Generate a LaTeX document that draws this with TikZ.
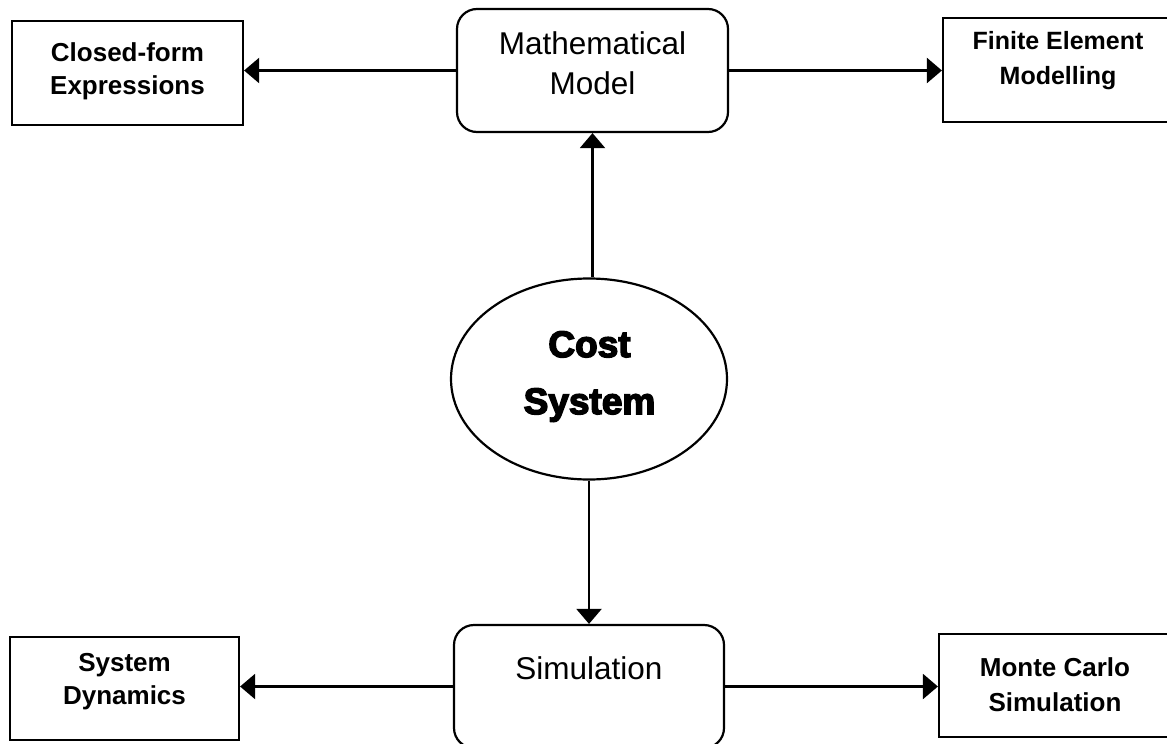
\documentclass[tikz,border=0pt]{standalone}
\usepackage{fontspec}
\setmainfont{Liberation Sans}
\newfontfamily\heavyfont{Liberation Sans}[BoldFeatures={FakeBold=4}]
\usetikzlibrary{arrows.meta,shapes.geometric}
\begin{document}
\begin{tikzpicture}[x=1pt,y=-1pt,
  box/.style={draw, line width=2.2pt, inner sep=0pt, minimum width=#1, minimum height=103pt},
  rbox/.style={draw, line width=2.2pt, inner sep=0pt, rounded corners=20pt, minimum width=271pt, minimum height=123pt},
  lbl/.style={inner sep=0pt, align=center, font=\bfseries\fontsize{26}{33}\selectfont},
  rlbl/.style={inner sep=0pt, align=center, font=\fontsize{31.5}{40}\selectfont},
  arr/.style={line width=2.2pt, -{Triangle[length=15pt,width=25pt]}}]
\useasboundingbox (0,0) rectangle (1167,744);
\clip (0,0) rectangle (1167,744);
% boxes
\node[box=231pt, minimum height=104pt] (cf) at (127.5,73) {};
\node[rbox] (mm) at (592.5,70.5) {};
\node[box=230pt, minimum height=104pt] (fe) at (1058,70) {};
\node[draw, ellipse, line width=2.2pt, inner sep=0pt, minimum width=276pt, minimum height=201pt] (cs) at (589,379) {};
\node[box=229pt] (sd) at (124.5,688.5) {};
\node[rbox, minimum width=270pt] (sim) at (589,686.5) {};
\node[box=232pt] (mc) at (1055,685.5) {};
% texts
\node[lbl] (cft) at (127.5,71.5) {Closed-form\\Expressions};
\node[rlbl] (mmt) at (592.5,63) {Mathematical\\Model};
\node[lbl, font=\bfseries\fontsize{25}{35}\selectfont] (fet) at (1058,60.5) {Finite Element\\Modelling};
\node[inner sep=0pt, align=center, font=\heavyfont\bfseries\fontsize{37}{57}\selectfont] (cst) at (589.5,376.5) {Cost\\System};
\node[lbl] (sdt) at (124.5,681.5) {System\\Dynamics};
\node[rlbl] (simt) at (589,668) {Simulation};
\node[lbl, font=\bfseries\fontsize{26}{35}\selectfont] (mct) at (1055,684.5) {Monte Carlo\\Simulation};
% connectors
\draw[arr] (mm.west) -- (mm.west -| cf.east);
\draw[arr] (mm.east) -- (mm.east -| fe.west);
\draw[arr] (cs.north -| mm.south) -- (mm.south);
\draw[arr] (cs.south) -- (sim.north);
\draw[arr] (sim.west) -- (sim.west -| sd.east);
\draw[arr] (sim.east) -- (sim.east -| mc.west);
\end{tikzpicture}
\end{document}
